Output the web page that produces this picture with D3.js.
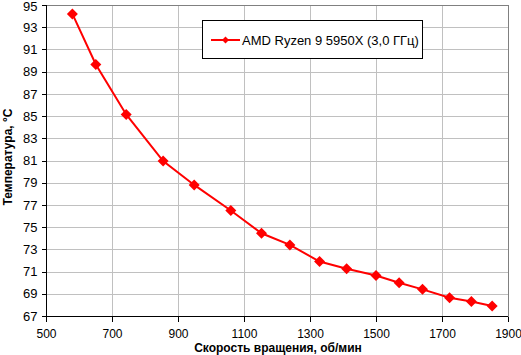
<!DOCTYPE html>
<html>
<head>
<meta charset="utf-8">
<script src="https://cdn.jsdelivr.net/npm/d3@7"></script>
<style>
  html, body { margin: 0; padding: 0; background: #fff; }
  svg { display: block; font-family: "Liberation Sans", Arial, sans-serif; }
</style>
</head>
<body>
<svg id="chart" width="521" height="355"></svg>
<script>
const seriesName = "AMD Ryzen 9 5950X (3,0 ГГц)";
const rpm = [580, 651, 743, 855, 949, 1060, 1153, 1239, 1329, 1411, 1500, 1570, 1641, 1723, 1789, 1852];
const temp = [94.2, 89.65, 85.15, 80.95, 78.8, 76.5, 74.45, 73.4, 71.9, 71.25, 70.65, 70.0, 69.4, 68.65, 68.3, 67.9];
const xTicks = [500, 700, 900, 1100, 1300, 1500, 1700, 1900];
const yTicks = [67, 69, 71, 73, 75, 77, 79, 81, 83, 85, 87, 89, 91, 93, 95];
const xTitle = "Скорость вращения, об/мин";
const yTitle = "Температура, °С";

const svg = d3.select("#chart");
const L = 46, R = 508, T = 5, B = 316;
const x = d3.scaleLinear().domain([500, 1900]).range([L, R]);
const y = d3.scaleLinear().domain([67, 95]).range([B, T]);

// gridlines
const grid = svg.append("g").attr("stroke", "#c0c0c0").attr("stroke-width", 1).attr("shape-rendering", "crispEdges");
grid.selectAll("line.h").data(yTicks).join("line")
  .attr("x1", L).attr("x2", R).attr("y1", d => Math.round(y(d)) + 0.5).attr("y2", d => Math.round(y(d)) + 0.5);
grid.selectAll("line.v").data(xTicks).join("line")
  .attr("y1", T).attr("y2", B).attr("x1", d => Math.round(x(d)) + 0.5).attr("x2", d => Math.round(x(d)) + 0.5);

// plot border (top/right gray)
svg.append("rect").attr("x", L + 0.5).attr("y", T + 0.5).attr("width", R - L).attr("height", B - T)
  .attr("fill", "none").attr("stroke", "#808080").attr("shape-rendering", "crispEdges");

// axes
const xAxis = d3.axisBottom(x).tickValues(xTicks).tickSize(5).tickPadding(8).tickFormat(d3.format("d"));
const yAxis = d3.axisLeft(y).tickValues(yTicks).tickSize(5).tickPadding(4).tickFormat(d3.format("d"));
const gx = svg.append("g").attr("transform", `translate(0,${B + 0.5})`).call(xAxis);
const gy = svg.append("g").attr("transform", `translate(${L + 0.5},0)`).call(yAxis);
[gx, gy].forEach(g => {
  g.selectAll("path,line").attr("stroke", "#000").attr("shape-rendering", "crispEdges");
  g.select(".domain").attr("d", g === gx ? `M${L},0H${R}` : `M0,${T}V${B}`);
  g.selectAll("text").attr("fill", "#000").attr("font-family", "Liberation Sans, Arial, sans-serif");
});
gx.selectAll("text").attr("font-size", 12);
gy.selectAll("text").attr("font-size", 13);
gy.selectAll(".tick").filter(d => d === 95).select("text").attr("dy", "0.45em");

// line
const data = rpm.map((r, i) => ({ r, t: temp[i] }));
svg.append("path").datum(data)
  .attr("fill", "none").attr("stroke", "#ff0000").attr("stroke-width", 2)
  .attr("d", d3.line().x(d => x(d.r)).y(d => y(d.t)));

const diamond = s => `M0,${-s}L${s},0L0,${s}L${-s},0Z`;
svg.selectAll("path.pt").data(data).join("path").attr("class", "pt")
  .attr("transform", d => `translate(${x(d.r)},${y(d.t)})`)
  .attr("d", diamond(5.5)).attr("fill", "#ff0000");

// axis titles
svg.append("text").attr("x", 278).attr("y", 352).attr("text-anchor", "middle")
  .attr("font-size", 12).attr("font-weight", "bold").text(xTitle);
svg.append("text").attr("transform", "translate(12,157) rotate(-90)").attr("text-anchor", "middle")
  .attr("font-size", 12).attr("font-weight", "bold").text(yTitle);

// legend
const lg = svg.append("g");
lg.append("rect").attr("x", 202.5).attr("y", 20.5).attr("width", 220).attr("height", 38)
  .attr("fill", "#fff").attr("stroke", "#000").attr("shape-rendering", "crispEdges");
lg.append("line").attr("x1", 211).attr("x2", 240).attr("y1", 40).attr("y2", 40)
  .attr("stroke", "#ff0000").attr("stroke-width", 2);
lg.append("path").attr("transform", "translate(225.5,40)").attr("d", diamond(3.5)).attr("fill", "#ff0000");
lg.append("text").attr("x", 242).attr("y", 44.5).attr("font-size", 13).text(seriesName);
</script>
</body>
</html>
